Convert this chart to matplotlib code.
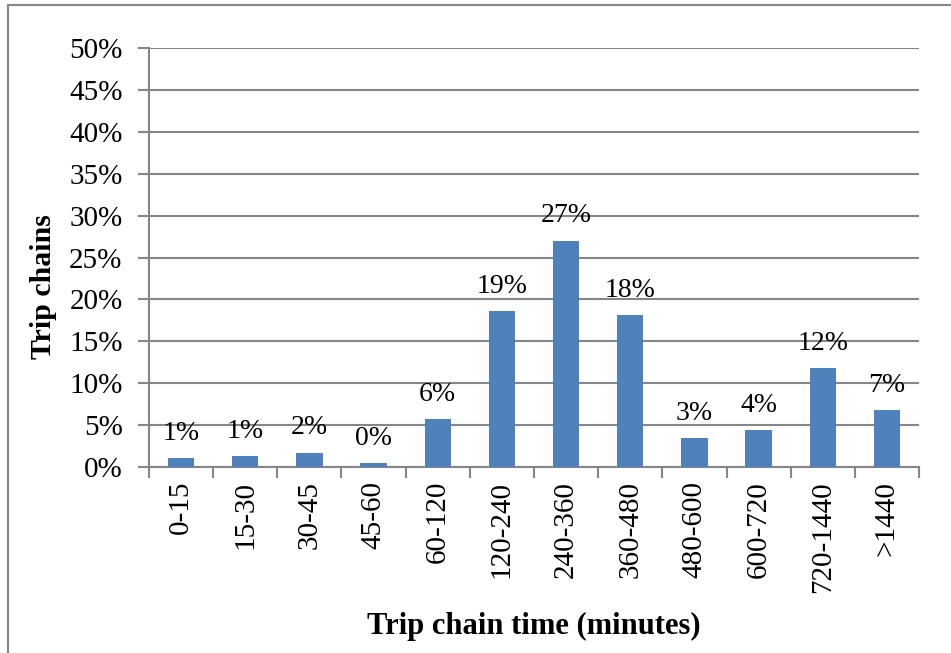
import numpy as np
import matplotlib.pyplot as plt
from matplotlib.lines import Line2D

# Share of trip chains per duration class (in %)
categories = ['0-15', '15-30', '30-45', '45-60', '60-120', '120-240',
              '240-360', '360-480', '480-600', '600-720', '720-1440', '>1440']
shares = [1.07, 1.31, 1.71, 0.45, 5.7, 18.6, 27.0, 18.1, 3.46, 4.4, 11.8, 6.8]
yticks = [0, 5, 10, 15, 20, 25, 30, 35, 40, 45, 50]

plt.rcParams['font.family'] = ['Liberation Serif', 'DejaVu Serif']
grey = '#868686'

fig = plt.figure(figsize=(9.51, 6.53), dpi=100)
ax = fig.add_axes([149 / 951, 1 - 467 / 653, (919 - 149) / 951, (467 - 48) / 653])

x = np.arange(len(categories))
bars = ax.bar(x, shares, width=0.41, color='#4F81BD', zorder=3)

# data labels, rounded like Excel does
for xi, v in zip(x, shares):
    ax.annotate(f'{round(v):.0f}%', (xi, v), xytext=(0, 9), textcoords='offset points',
                ha='center', va='bottom', fontsize=20, zorder=4)

ax.set_xlim(-0.5, len(categories) - 0.5)
ax.set_ylim(0, 50)
ax.set_yticks(yticks)
ax.set_yticklabels([f'{t}%' for t in yticks], fontsize=21)
ax.yaxis.grid(True, color=grey, linewidth=1.5, zorder=0)

ax.set_xticks(x)
ax.set_xticklabels(categories, rotation=90, fontsize=21)
ax.set_xticks(np.arange(-0.5, len(categories)), minor=True)
ax.tick_params(axis='x', which='major', length=0, pad=10)
ax.tick_params(axis='x', which='minor', length=8, width=1.5, color=grey, direction='out')
ax.tick_params(axis='y', length=8, width=1.5, color=grey, direction='out', pad=11)

for side in ['top', 'right']:
    ax.spines[side].set_visible(False)
for side in ['left', 'bottom']:
    ax.spines[side].set_color(grey)
    ax.spines[side].set_linewidth(1.5)

ax.set_xlabel('Trip chain time (minutes)', fontsize=22, fontweight='bold', labelpad=14)
ax.set_ylabel('Trip chains', fontsize=21.5, fontweight='bold')
ax.yaxis.set_label_coords(-0.12, 0.43)

# outer frame of the chart area (only top and left visible)
fig.add_artist(Line2D([8 / 951, 1], [1 - 5 / 653, 1 - 5 / 653], color=grey, lw=1.5,
                      transform=fig.transFigure))
fig.add_artist(Line2D([8 / 951, 8 / 951], [0, 1 - 5 / 653], color=grey, lw=1.5,
                      transform=fig.transFigure))

fig.savefig('out.png', dpi=100)
